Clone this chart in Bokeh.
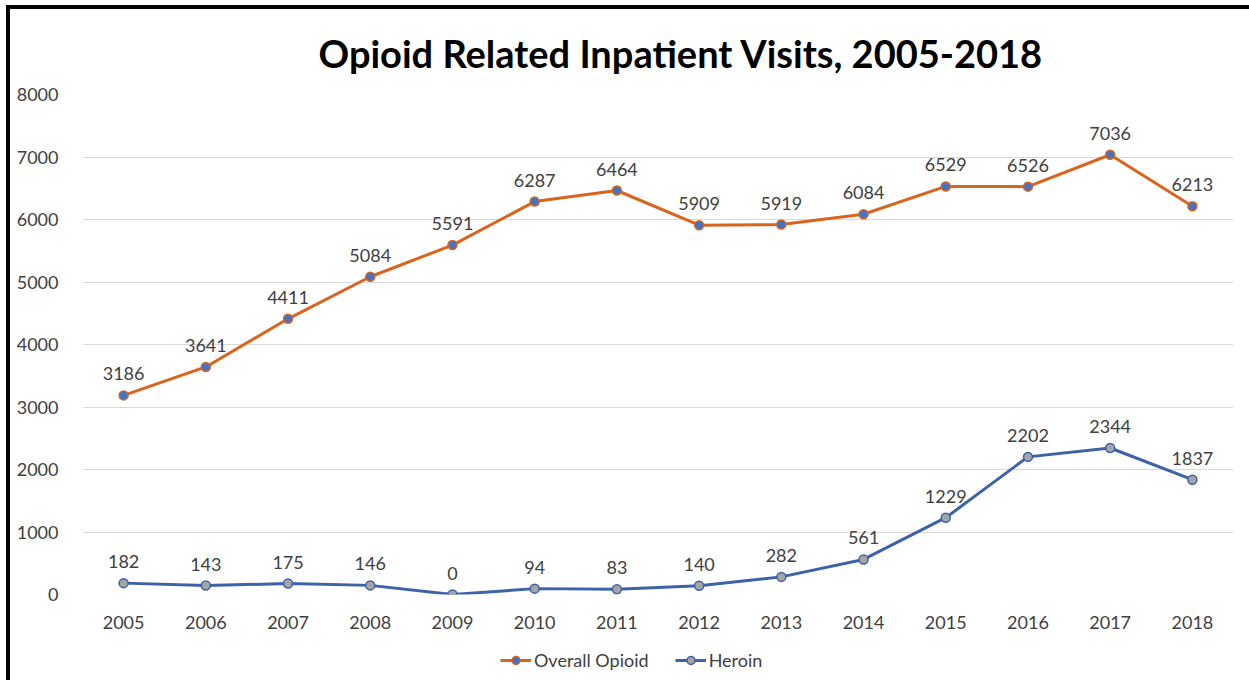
from bokeh.plotting import figure
from bokeh.layouts import column
from bokeh.models import ColumnDataSource, Legend, LegendItem, Title, Range1d
from bokeh.embed import file_html
from bokeh.resources import INLINE
from bokeh.core.properties import value

years = ["2005", "2006", "2007", "2008", "2009", "2010", "2011",
         "2012", "2013", "2014", "2015", "2016", "2017", "2018"]
overall_opioid = [3186, 3641, 4411, 5084, 5591, 6287, 6464,
                  5909, 5919, 6084, 6529, 6526, 7036, 6213]
heroin = [182, 143, 175, 146, 0, 94, 83,
          140, 282, 561, 1229, 2202, 2344, 1837]
y_ticks = [0, 1000, 2000, 3000, 4000, 5000, 6000, 7000, 8000]
series_names = ["Overall Opioid", "Heroin"]

FONT = "Lato"
TXT = "#404040"
ORANGE = "#D8641E"
BLUE = "#3C62AA"
MARK_BLUE = "#4472C4"
MARK_GRAY = "#A5A5A5"

src = ColumnDataSource(dict(
    x=years, o=overall_opioid, h=heroin,
    ol=[str(v) for v in overall_opioid], hl=[str(v) for v in heroin]))

p = figure(x_range=years, y_range=(0, 8000), width=1239, height=631,
           output_backend="svg", toolbar_location=None,
           min_border_left=72, min_border_right=16, min_border_top=85,
           min_border_bottom=46, outline_line_color=None)

p.title = Title(text="Opioid Related Inpatient Visits, 2005-2018", align="left",
                offset=236, text_font=FONT, text_font_size="38px",
                text_font_style="bold", text_color="#000000", standoff=37)

p.xgrid.grid_line_color = None
p.ygrid.grid_line_color = "#D9D9D9"
p.ygrid.grid_line_width = 1
p.yaxis.ticker = y_ticks
for ax in (p.xaxis[0], p.yaxis[0]):
    ax.axis_line_color = None
    ax.major_tick_line_color = None
    ax.minor_tick_line_color = None
    ax.major_label_text_font = FONT
    ax.major_label_text_font_size = "18px"
    ax.major_label_text_color = TXT
p.xaxis.major_label_standoff = 15
p.yaxis.major_label_standoff = 18

p.line("x", "o", source=src, line_color=ORANGE, line_width=3)
p.scatter("x", "o", source=src, size=9, fill_color=MARK_BLUE,
          line_color=ORANGE, line_width=1.5)
p.line("x", "h", source=src, line_color=BLUE, line_width=3)
p.scatter("x", "h", source=src, size=9, fill_color=MARK_GRAY,
          line_color=BLUE, line_width=1.5)

p.text("x", "o", text="ol", source=src, text_align="center", text_baseline="bottom",
       y_offset=-15, text_font=value(FONT), text_font_size="18px", text_color=TXT)
p.text("x", "h", text="hl", source=src, text_align="center", text_baseline="bottom",
       y_offset=-15, text_font=value(FONT), text_font_size="18px", text_color=TXT)

# legend strip below the chart (its renderers hold points outside the visible range)
lg = figure(width=1239, height=40, output_backend="svg", toolbar_location=None,
            x_range=Range1d(0, 1), y_range=Range1d(0, 1),
            x_axis_location=None, y_axis_location=None,
            min_border=0, outline_line_color=None)
lg.grid.visible = False
off = [5, 6]
lo = lg.line(x=off, y=off, line_color=ORANGE, line_width=3)
co = lg.scatter(x=off, y=off, size=9, fill_color=MARK_BLUE, line_color=ORANGE, line_width=1.5)
lh = lg.line(x=off, y=off, line_color=BLUE, line_width=3)
ch = lg.scatter(x=off, y=off, size=9, fill_color=MARK_GRAY, line_color=BLUE, line_width=1.5)
legend = Legend(items=[LegendItem(label=series_names[0], renderers=[lo, co]),
                       LegendItem(label=series_names[1], renderers=[lh, ch])],
                orientation="horizontal", location=(418, 9),
                label_text_font=FONT, label_text_font_size="18px",
                label_text_color=TXT, glyph_width=31, label_standoff=3,
                spacing=26, border_line_color=None, background_fill_alpha=0,
                padding=0, margin=0)
lg.add_layout(legend)

layout = column(p, lg, spacing=0,
                styles={"border-top": "4px solid black", "border-left": "4px solid black",
                        "margin-top": "5px", "margin-left": "6px"})

open("out.html", "w").write(file_html(layout, INLINE))
